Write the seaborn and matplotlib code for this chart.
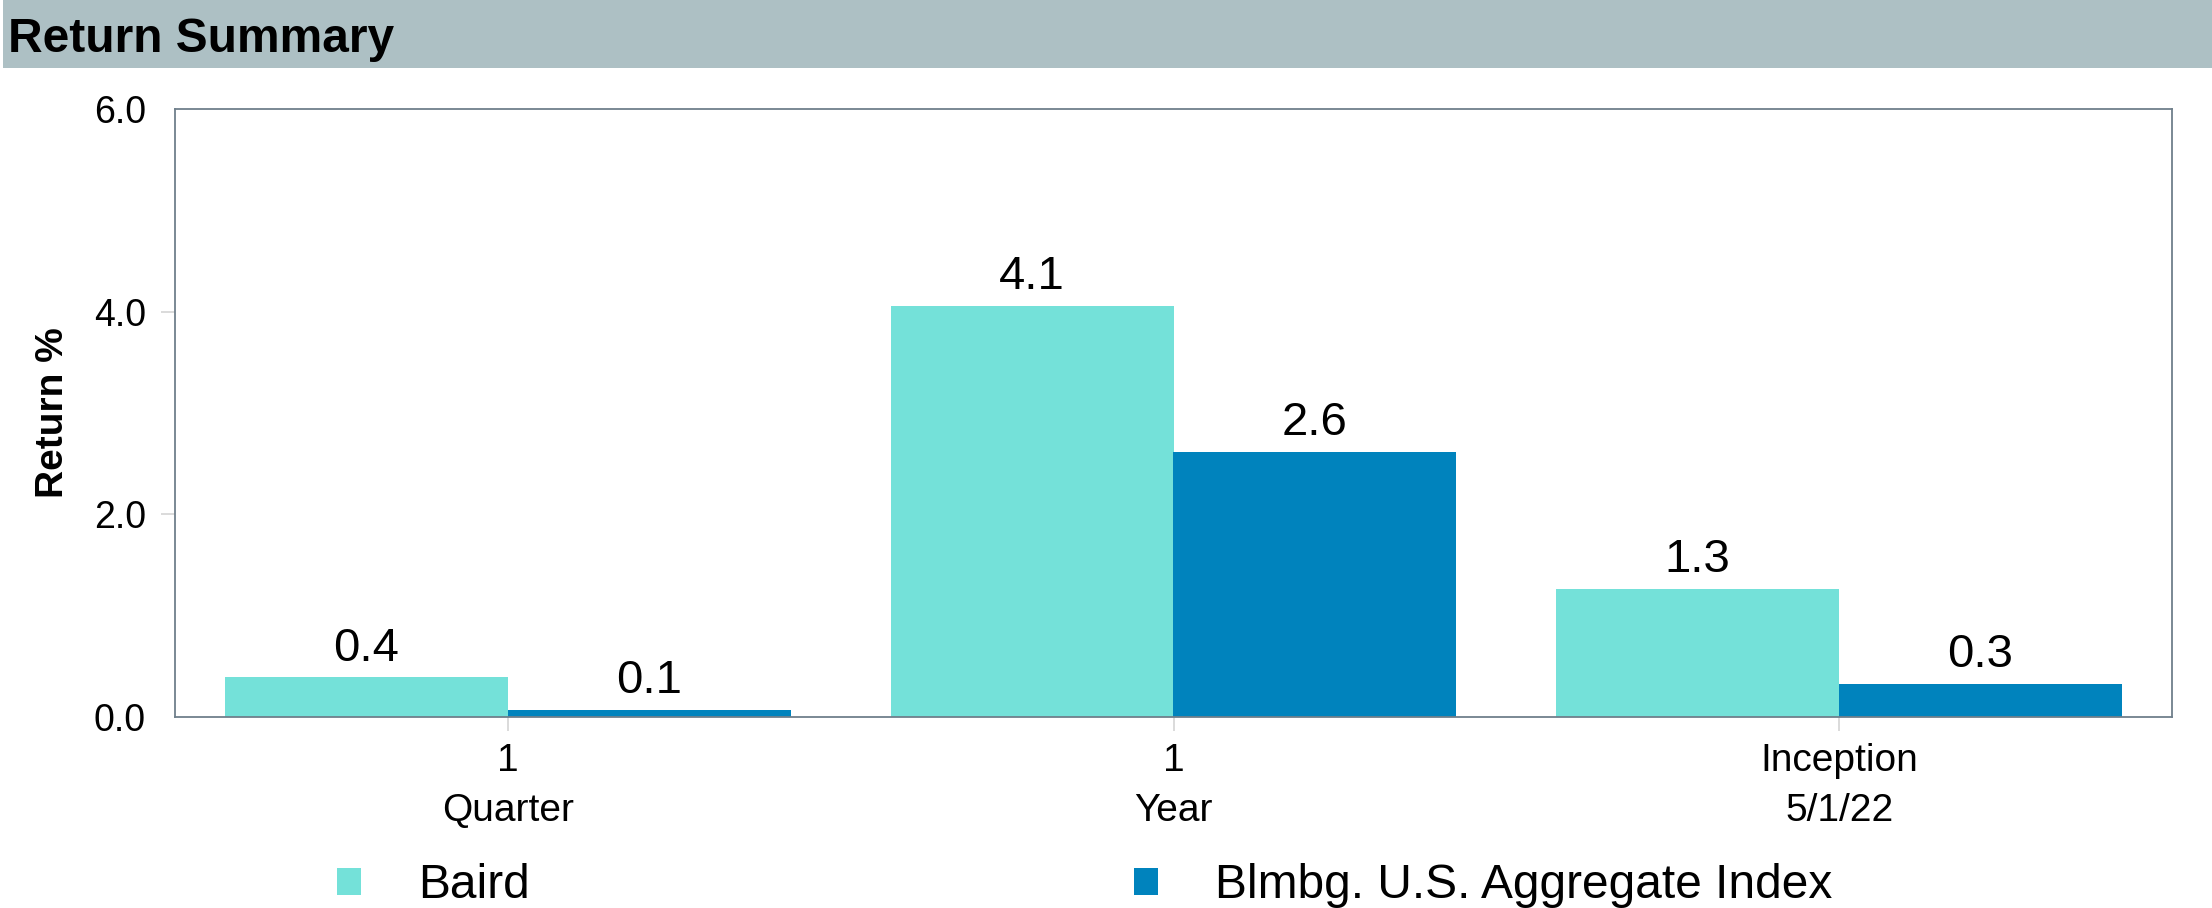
import matplotlib
matplotlib.use("Agg")
import matplotlib.pyplot as plt
import seaborn as sns
import pandas as pd
from matplotlib.patches import Rectangle

# ---- data ----
categories = ["1\nQuarter", "1\nYear", "Inception\n5/1/22"]
series_names = ["Baird", "Blmbg. U.S. Aggregate Index"]
baird = [0.39, 4.06, 1.26]
agg_index = [0.07, 2.62, 0.33]
y_ticks = [0.0, 2.0, 4.0, 6.0]
y_tick_labels = ["0.0", "2.0", "4.0", "6.0"]
colors = ["#74E1D9", "#0083BD"]
title = "Return Summary"
y_label = "Return %"

df = pd.DataFrame({
    "Period": categories * 2,
    "Series": [series_names[0]] * len(categories) + [series_names[1]] * len(categories),
    "Return": baird + agg_index,
})

sns.set_theme(style="white")
plt.rcParams["font.family"] = ["Liberation Sans", "DejaVu Sans"]
plt.rcParams["text.color"] = "black"
plt.rcParams["axes.labelcolor"] = "black"
plt.rcParams["xtick.labelcolor"] = "black"
plt.rcParams["ytick.labelcolor"] = "black"

W, H = 2212, 908
fig = plt.figure(figsize=(W / 100, H / 100), dpi=100)
fig.patch.set_facecolor("white")

# header banner
fig.patches.append(Rectangle((3 / W, 1 - 68 / H), 1, 68 / H, transform=fig.transFigure,
                             facecolor="#ADC0C4", edgecolor="none", zorder=0))
fig.text(8 / W, 1 - 40 / H, title, fontsize=34.5, fontweight="bold", va="center", ha="left",
         color="black")

ax = fig.add_axes([175 / W, 1 - 717 / H, (2172 - 175) / W, (717 - 109) / H])
sns.barplot(data=df, x="Period", y="Return", hue="Series", hue_order=series_names,
            order=categories, palette=colors, width=0.85, saturation=1, ax=ax,
            edgecolor="none", linewidth=0)

ax.set_xlim(-0.5, len(categories) - 0.5)
ax.set_ylim(y_ticks[0], y_ticks[-1])
ax.set_yticks(y_ticks)
ax.set_yticklabels(y_tick_labels, fontsize=27, color="black")
ax.set_xlabel("")
ax.set_ylabel(y_label, fontsize=28, fontweight="bold", labelpad=16, color="black")

for t in ax.get_xticklabels():
    t.set_fontsize(28)
    t.set_linespacing(1.48)
    t.set_color("black")

ax.tick_params(axis="x", length=10, width=1.2, color="#D4D4D4", pad=9, bottom=True)
ax.tick_params(axis="y", length=10, width=1.2, color="#D4D4D4", pad=11, left=True)
yt = ax.yaxis.get_major_ticks()
yt[0].tick1line.set_visible(False)
yt[-1].tick1line.set_visible(False)

for s in ax.spines.values():
    s.set_visible(True)
    s.set_color("#6F7F8B")
    s.set_linewidth(1.3)

for c in ax.containers:
    ax.bar_label(c, fmt="%.1f", padding=5, fontsize=34, color="black")

handles, labels = ax.get_legend_handles_labels()
if ax.get_legend() is not None:
    ax.get_legend().remove()
fig.legend(handles, labels, loc="center left", bbox_to_anchor=(337 / W, 1 - 886 / H),
           ncol=2, frameon=False, fontsize=34.5, handlelength=0.5, handleheight=0.5,
           handletextpad=1.2, columnspacing=12.6, borderpad=0, borderaxespad=0,
           labelcolor="black")

fig.savefig("out.png", dpi=100)
